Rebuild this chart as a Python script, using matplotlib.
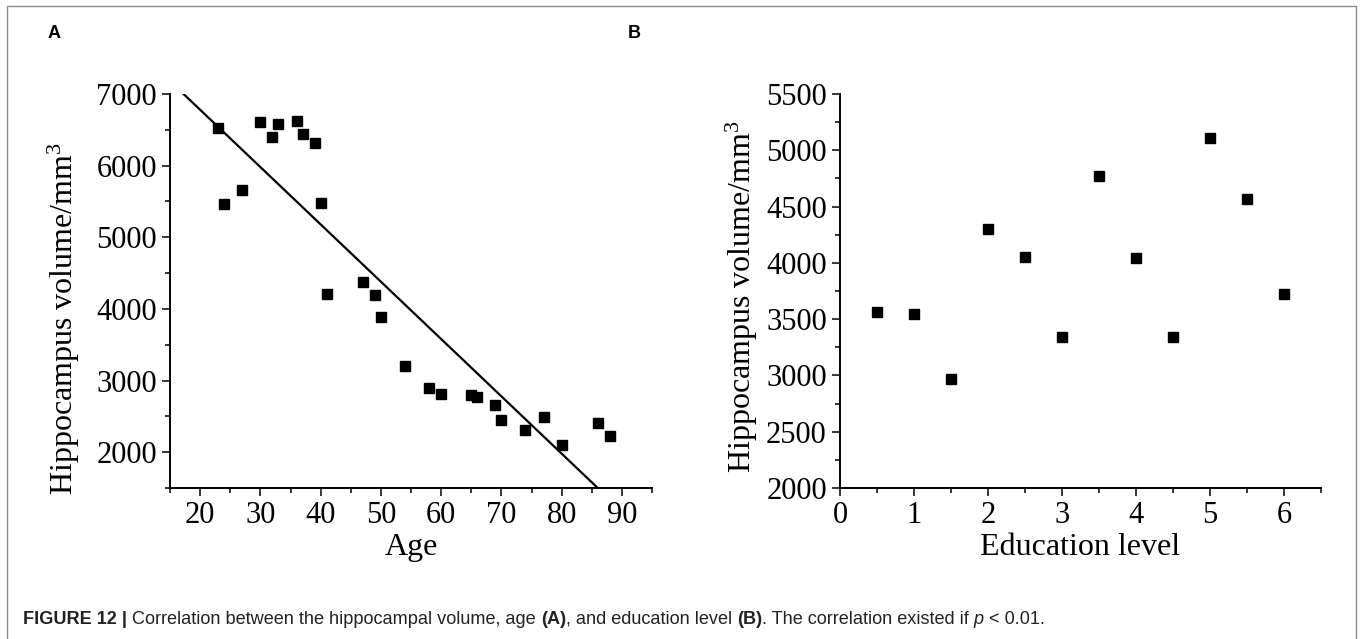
import numpy as np
import matplotlib
matplotlib.use("Agg")
import matplotlib.pyplot as plt
from matplotlib.patches import Rectangle
from matplotlib.ticker import MultipleLocator

# panel A: age vs hippocampus volume
age = [23, 24, 27, 30, 32, 33, 36, 37, 39, 40, 41, 47, 49, 50, 54,
       58, 60, 65, 66, 69, 70, 74, 77, 80, 86, 88]
vol_age = [6520, 5465, 5665, 6610, 6400, 6580, 6620, 6445, 6310, 5480, 4215,
           4380, 4200, 3890, 3205, 2900, 2815, 2800, 2770, 2660, 2455, 2310,
           2495, 2095, 2410, 2230]
# fitted line
FIT_INTERCEPT = 8380
FIT_SLOPE = -80

# panel B: education level vs hippocampus volume
edu = [0.5, 1, 1.5, 2, 2.5, 3, 3.5, 4, 4.5, 5, 5.5, 6]
vol_edu = [3560, 3545, 2965, 4300, 4055, 3345, 4775, 4045, 3340, 5110, 4565, 3720]

SERIF = "Liberation Serif"
SANS = "Liberation Sans"
plt.rcParams["font.family"] = [SERIF, "DejaVu Serif"]
plt.rcParams["mathtext.fontset"] = "custom"
plt.rcParams["mathtext.rm"] = SERIF
plt.rcParams["mathtext.it"] = SERIF + ":italic"

W, H = 1360, 639
fig = plt.figure(figsize=(W / 100, H / 100), dpi=100)


def px_axes(left, top, right, bottom):
    return fig.add_axes([left / W, 1 - bottom / H, (right - left) / W, (bottom - top) / H])


def style(ax):
    for s in ["top", "right"]:
        ax.spines[s].set_visible(False)
    for s in ["left", "bottom"]:
        ax.spines[s].set_linewidth(1.4)
    ax.tick_params(which="both", direction="out", width=1.1, labelsize=22, pad=4)
    ax.tick_params(which="major", length=5.5)
    ax.tick_params(which="minor", length=3.5)


axA = px_axes(170, 94, 652, 488)
axA.plot(age, vol_age, "s", color="black", markersize=6.8)
xfit = np.array([15, 95])
axA.plot(xfit, FIT_INTERCEPT + FIT_SLOPE * xfit, "-", color="black", lw=1.6)
axA.set_xlim(15, 95)
axA.set_ylim(1500, 7000)
axA.set_xticks([20, 30, 40, 50, 60, 70, 80, 90])
axA.xaxis.set_minor_locator(MultipleLocator(5))
axA.set_yticks([2000, 3000, 4000, 5000, 6000, 7000])
axA.yaxis.set_minor_locator(MultipleLocator(500))
style(axA)
axA.set_xlabel("Age", fontsize=23)
axA.set_ylabel("Hippocampus volume/mm$^{3}$", fontsize=23)
axA.xaxis.set_label_coords(0.5, -0.115)
axA.yaxis.set_label_coords(-0.183, 0.43)

axB = px_axes(840, 94, 1321, 488)
axB.plot(edu, vol_edu, "s", color="black", markersize=6.8)
axB.set_xlim(0, 6.5)
axB.set_ylim(2000, 5500)
axB.set_xticks([0, 1, 2, 3, 4, 5, 6])
axB.xaxis.set_minor_locator(MultipleLocator(0.5))
axB.set_yticks([2000, 2500, 3000, 3500, 4000, 4500, 5000, 5500])
axB.yaxis.set_minor_locator(MultipleLocator(250))
style(axB)
axB.set_xlabel("Education level", fontsize=23)
axB.set_ylabel("Hippocampus volume/mm$^{3}$", fontsize=23)
axB.xaxis.set_label_coords(0.5, -0.115)
axB.yaxis.set_label_coords(-0.167, 0.487)

# panel letters
fig.text(48 / W, 1 - 38 / H, "A", family=SANS, weight="bold", fontsize=13)
fig.text(628 / W, 1 - 38 / H, "B", family=SANS, weight="bold", fontsize=13)

# frame around the figure
fig.patches.append(Rectangle((7 / W, -0.02), (1356 - 7) / W, 1 - 6 / H + 0.02,
                             transform=fig.transFigure, fill=False,
                             edgecolor="#8c8c8c", lw=1.0))

# caption, drawn piece by piece
caption = [
    ("FIGURE 12 |", "bold", "normal"),
    (" Correlation between the hippocampal volume, age ", "normal", "normal"),
    ("(A)", "bold", "normal"),
    (", and education level ", "normal", "normal"),
    ("(B)", "bold", "normal"),
    (". The correlation existed if ", "normal", "normal"),
    ("p", "normal", "italic"),
    (" < 0.01.", "normal", "normal"),
]
renderer = fig.canvas.get_renderer()
x = 23
for txt, wt, st in caption:
    t = fig.text(x / W, 1 - 624 / H, txt, family=SANS, weight=wt, style=st,
                 fontsize=13.1, color="#222222")
    x = t.get_window_extent(renderer).x1

fig.savefig("out.png", dpi=100)
